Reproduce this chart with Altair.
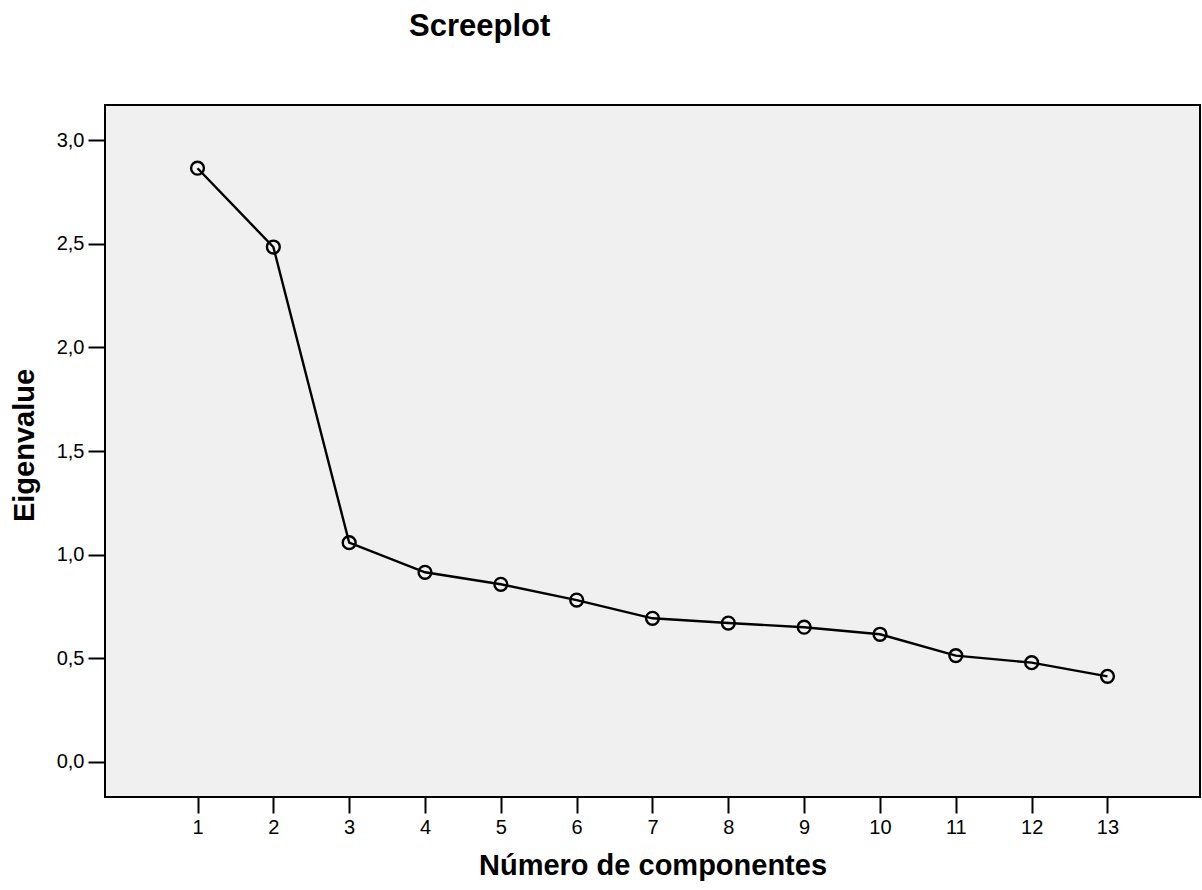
import altair as alt
import pandas as pd

components = [1, 2, 3, 4, 5, 6, 7, 8, 9, 10, 11, 12, 13]
eigenvalues = [2.864, 2.484, 1.058, 0.915, 0.857, 0.781, 0.693, 0.670, 0.650, 0.616, 0.513, 0.479, 0.413]
x_ticks = [1, 2, 3, 4, 5, 6, 7, 8, 9, 10, 11, 12, 13]
y_ticks = [0.0, 0.5, 1.0, 1.5, 2.0, 2.5, 3.0]

df = pd.DataFrame({"comp": components, "eig": eigenvalues})

FONT = "Liberation Sans"

x_enc = alt.X(
    "comp:Q",
    scale=alt.Scale(domain=[-0.22, 14.22], nice=False, zero=False),
    axis=alt.Axis(
        values=x_ticks,
        format="d",
        title="Número de componentes",
        titleFontSize=29,
        titleFontWeight="bold",
        titleFont=FONT,
        titleColor="black",
        titleBaseline="alphabetic",
        titleY=77,
        labelFontSize=20,
        labelFont=FONT,
        labelColor="black",
        labelPadding=4,
        tickSize=16,
        tickWidth=2,
        tickColor="black",
        domain=False,
        grid=False,
        labelFlush=False,
    ),
)
y_enc = alt.Y(
    "eig:Q",
    scale=alt.Scale(domain=[-0.169, 3.169], nice=False, zero=False),
    axis=alt.Axis(
        values=y_ticks,
        title="Eigenvalue",
        titleFontSize=29,
        titleFontWeight="bold",
        titleFont=FONT,
        titleColor="black",
        titleAngle=270,
        titleAlign="center",
        titleBaseline="alphabetic",
        titleX=-72,
        titleY=340,
        labelExpr="replace(format(datum.value, '.1f'), '.', ',')",
        labelFontSize=20,
        labelFont=FONT,
        labelColor="black",
        labelPadding=4,
        tickSize=17,
        tickWidth=2,
        tickColor="black",
        domain=False,
        grid=False,
        labelFlush=False,
    ),
)

line = alt.Chart(df).mark_line(color="black", strokeWidth=2.4).encode(x=x_enc, y=y_enc)
pts = alt.Chart(df).mark_point(
    shape="circle", filled=False, stroke="black", strokeWidth=2.4, size=165, opacity=1
).encode(x="comp:Q", y="eig:Q")

chart = (
    alt.layer(line, pts)
    .properties(
        width=1095,
        height=692,
        background="white",
        title=alt.TitleParams(
            "Screeplot",
            anchor="start",
            frame="group",
            dx=304,
            fontSize=31,
            fontWeight="bold",
            font=FONT,
            color="black",
            offset=62,
        ),
        autosize=alt.AutoSizeParams(type="none"),
        padding={"left": 105, "top": 105, "right": 2, "bottom": 93},
    )
    .configure_view(fill="#F0F0F0", stroke="black", strokeWidth=2)
)

chart.save("out.html", embed_options={"renderer": "svg", "actions": False})
